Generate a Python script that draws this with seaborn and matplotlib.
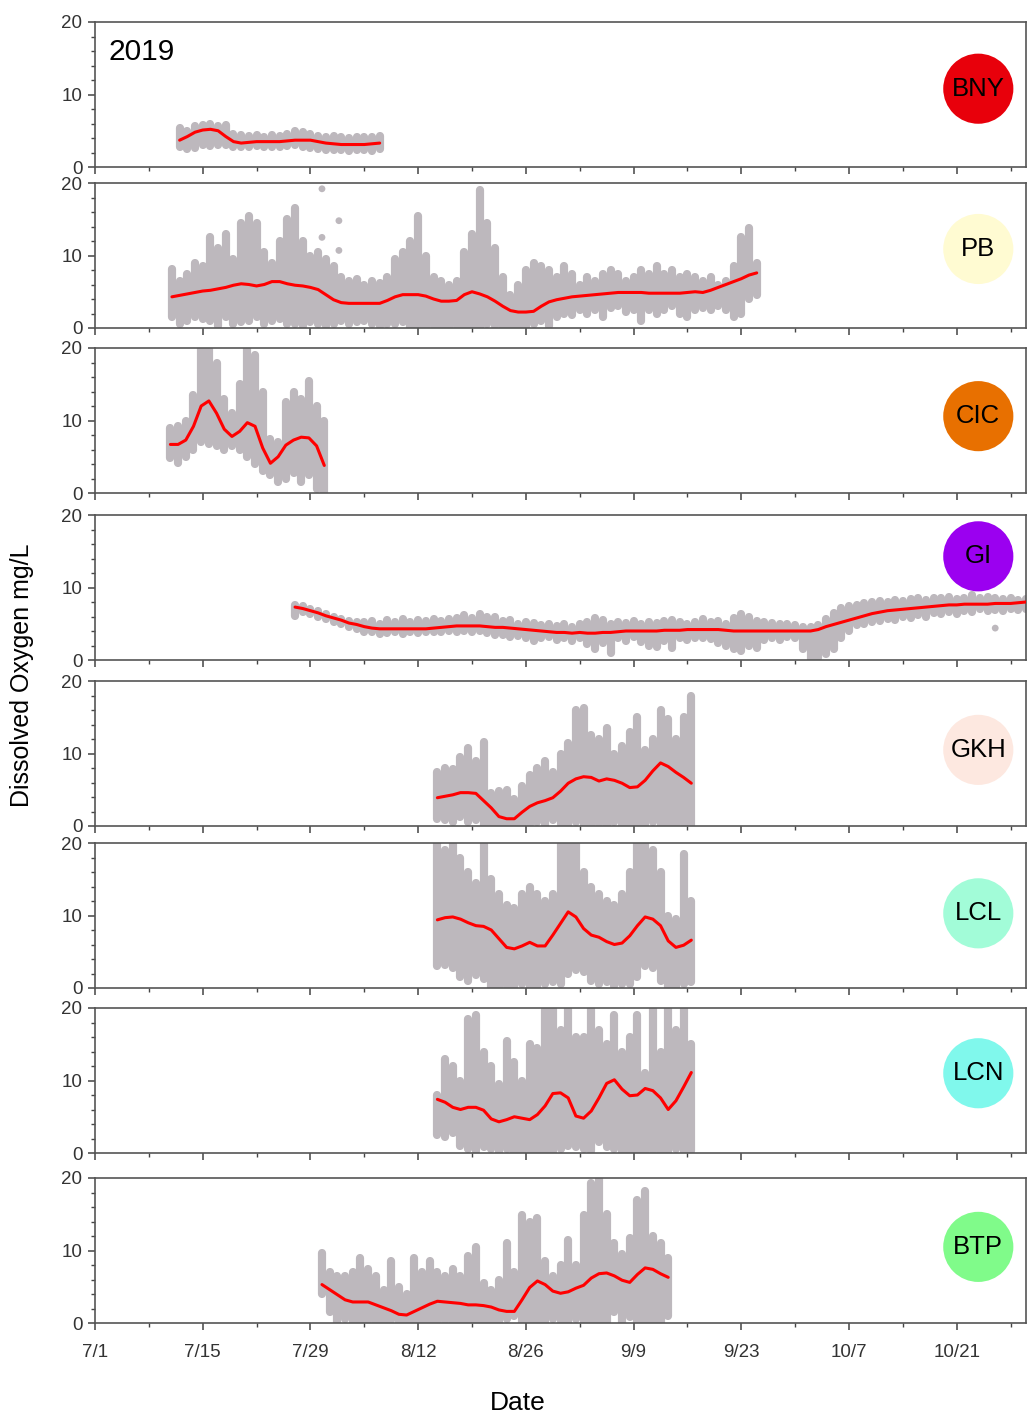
import numpy as np
import pandas as pd
import matplotlib.pyplot as plt
import matplotlib.transforms as mtransforms
import seaborn as sns

# stations, top to bottom
sites = ["BNY", "PB", "CIC", "GI", "GKH", "LCL", "LCN", "BTP"]
site_colors = ["#e8000b", "#fffbd2", "#e87000", "#9b00f0",
               "#fde8e0", "#a2fcd8", "#80f8ec", "#80fb8a"]

# x axis: days after 7/1
tick_days = [0, 14, 28, 42, 56, 70, 84, 98, 112]
tick_labels = ["7/1", "7/15", "7/29", "8/12", "8/26", "9/9", "9/23", "10/7", "10/21"]

# first day of each record, then one value per day
start_day = {"BNY": 11, "PB": 10, "CIC": 9.8, "GI": 26,
             "GKH": 44.5, "LCL": 44.5, "LCN": 44.5, "BTP": 29.5}

# smoothed DO (red line), daily high and daily low of the raw readings (grey)
bny_trend = [3.7, 4.2, 4.8, 5.1, 5.2, 5.0, 4.2, 3.5, 3.3, 3.4, 3.5, 3.5, 3.5, 3.5,
             3.6, 3.7, 3.7, 3.7, 3.5, 3.3, 3.2, 3.1, 3.1, 3.1, 3.1, 3.2, 3.3]
bny_hi = [5.4, 5.0, 5.6, 5.8, 5.9, 5.7, 5.8, 4.6, 4.4, 4.3, 4.4, 4.2, 4.4, 4.3,
          4.6, 5.0, 4.8, 4.5, 4.3, 4.2, 4.3, 4.1, 4.0, 4.2, 4.1, 4.2, 4.3]
bny_lo = [2.8, 2.5, 2.6, 3.0, 2.9, 3.1, 3.0, 2.7, 2.8, 2.7, 2.9, 2.8, 2.7, 2.8,
          2.9, 3.0, 2.8, 2.6, 2.5, 2.4, 2.3, 2.3, 2.2, 2.4, 2.3, 2.2, 2.5]

pb_trend = [4.3, 4.5, 4.7, 4.9, 5.1, 5.2, 5.4, 5.6, 5.9, 6.1,
            6.0, 5.8, 6.0, 6.4, 6.4, 6.1, 5.9, 5.8, 5.6, 5.3,
            4.6, 3.9, 3.5, 3.4, 3.4, 3.4, 3.4, 3.4, 3.8, 4.3,
            4.6, 4.6, 4.6, 4.4, 4.0, 3.7, 3.7, 3.8, 4.6, 5.0,
            4.7, 4.3, 3.7, 3.0, 2.4, 2.2, 2.2, 2.3, 3.0, 3.6,
            3.9, 4.1, 4.3, 4.4, 4.5, 4.6, 4.7, 4.8, 4.9, 4.9,
            4.9, 4.9, 4.8, 4.8, 4.8, 4.8, 4.8, 4.9, 5.0, 4.9,
            5.2, 5.6, 6.0, 6.4, 6.8, 7.3, 7.6]
pb_hi = [8.2, 6.5, 7.5, 9.0, 8.5, 12.5, 11.0, 13.0, 9.5, 14.5,
         15.5, 14.5, 10.5, 9.0, 12.0, 15.0, 16.5, 12.0, 10.0, 10.5,
         9.5, 8.5, 7.0, 6.5, 6.8, 6.0, 6.5, 6.2, 7.0, 9.5,
         10.5, 12.0, 15.5, 10.0, 7.0, 6.5, 6.0, 6.5, 10.5, 13.0,
         19.0, 14.5, 11.0, 7.0, 4.5, 6.0, 8.0, 9.0, 8.5, 8.0,
         7.0, 8.5, 7.5, 6.0, 7.0, 6.5, 7.5, 8.0, 7.5, 6.5,
         7.0, 8.0, 7.5, 8.5, 7.5, 8.0, 7.0, 7.5, 7.0, 6.5,
         7.0, 6.0, 6.5, 8.5, 12.5, 13.8, 9.0]
pb_lo = [1.5, 0.5, 1.0, 1.5, 1.2, 1.0, 0.3, 1.5, 0.5, 0.8,
         1.0, 1.5, 0.5, 1.0, 1.2, 0.5, 0.5, 0.3, 0.8, 0.5,
         0.3, 0.5, 1.0, 0.5, 0.8, 1.0, 0.5, 0.3, 0.5, 0.5,
         0.8, 0.2, 0.0, 0.0, 0.3, 0.0, 0.0, 0.3, 0.0, 0.0,
         0.2, 0.5, 0.3, 0.0, 0.0, 0.0, 0.0, 0.5, 1.0, 0.3,
         1.5, 2.0, 1.8, 2.5, 2.0, 2.5, 1.5, 2.8, 3.0, 2.2,
         2.5, 1.0, 2.5, 2.0, 2.5, 3.0, 2.0, 1.5, 2.5, 2.8,
         2.5, 3.0, 2.5, 1.5, 2.0, 4.0, 4.5]
pb_outlier_day = [29.5, 31.7, 29.5, 31.7]
pb_outlier_do = [19.2, 14.8, 12.5, 10.7]

cic_trend = [6.7, 6.7, 7.3, 9.2, 12.0, 12.7, 11.0, 8.8, 7.8, 8.5, 9.7,
             9.2, 6.2, 4.1, 5.0, 6.6, 7.3, 7.7, 7.6, 6.5, 3.8]
cic_hi = [9.0, 9.2, 10.0, 13.5, 20.0, 20.0, 18.0, 13.0, 11.0, 15.0, 20.0,
          19.0, 14.0, 7.5, 7.0, 12.5, 14.0, 13.0, 15.5, 12.0, 10.0]
cic_lo = [4.8, 4.2, 5.0, 6.0, 7.0, 6.8, 6.5, 6.0, 6.5, 6.0, 5.0,
          4.0, 3.0, 2.5, 1.5, 2.0, 2.8, 1.5, 2.5, 0.5, 0.0]

gi_trend = [7.3, 7.1, 6.8, 6.5, 6.1, 5.8, 5.5, 5.1, 4.9, 4.6,
            4.4, 4.3, 4.3, 4.3, 4.3, 4.3, 4.3, 4.3, 4.4, 4.5,
            4.6, 4.7, 4.7, 4.7, 4.7, 4.6, 4.5, 4.5, 4.4, 4.3,
            4.2, 4.1, 4.0, 3.9, 3.8, 3.8, 3.7, 3.8, 3.7, 3.7,
            3.8, 3.8, 3.9, 4.0, 4.0, 4.0, 4.0, 4.0, 4.1, 4.1,
            4.1, 4.2, 4.2, 4.2, 4.2, 4.2, 4.1, 4.0, 4.0, 4.0,
            4.0, 4.0, 4.0, 4.0, 4.0, 4.0, 4.0, 4.0, 4.2, 4.6,
            4.9, 5.2, 5.5, 5.8, 6.1, 6.4, 6.6, 6.8, 6.9, 7.0,
            7.1, 7.2, 7.3, 7.4, 7.5, 7.6, 7.6, 7.7, 7.7, 7.7,
            7.7, 7.8, 7.8, 7.8, 7.9, 8.0]
gi_hi = [7.6, 7.4, 7.0, 6.7, 6.4, 6.0, 5.7, 5.4, 5.2, 5.3,
         5.4, 5.0, 5.5, 5.2, 5.6, 5.3, 5.5, 5.4, 5.6, 5.4,
         5.7, 5.8, 6.2, 5.8, 6.3, 5.9, 6.0, 5.4, 5.5, 5.0,
         5.3, 5.1, 4.8, 4.9, 4.7, 5.0, 4.6, 4.9, 5.2, 5.8,
         5.5, 5.0, 5.3, 5.1, 5.4, 5.0, 5.2, 5.1, 5.4, 5.5,
         5.2, 5.0, 5.3, 5.6, 5.2, 5.4, 5.0, 5.8, 6.3, 5.9,
         5.4, 5.2, 5.1, 5.0, 4.9, 4.8, 4.6, 4.5, 4.8, 5.6,
         6.5, 7.2, 7.5, 7.6, 7.9, 8.0, 8.2, 8.0, 8.3, 8.1,
         8.4, 8.5, 8.3, 8.6, 8.5, 8.7, 8.4, 8.6, 8.9, 8.5,
         8.7, 8.6, 8.4, 8.5, 8.3, 8.4]
gi_lo = [6.1, 6.6, 6.3, 6.0, 5.6, 5.3, 5.0, 4.6, 4.3, 3.9,
         3.8, 3.6, 3.7, 3.8, 3.6, 3.8, 3.7, 3.8, 3.9, 3.8,
         4.0, 3.9, 4.0, 3.9, 4.0, 3.7, 3.5, 3.4, 3.2, 3.3,
         3.0, 2.6, 3.0, 3.2, 2.8, 3.1, 2.6, 3.0, 2.2, 1.5,
         2.4, 1.0, 3.0, 2.6, 3.2, 2.5, 2.0, 1.8, 2.6, 1.7,
         3.0, 2.8, 3.1, 3.0, 2.9, 2.4, 2.0, 1.5, 1.3, 2.0,
         1.6, 2.7, 3.0, 2.8, 3.2, 3.0, 1.5, 0.2, 0.3, 0.8,
         1.5, 3.0, 4.0, 4.8, 5.0, 5.3, 5.4, 5.7, 5.5, 6.0,
         5.8, 6.2, 6.0, 6.5, 6.3, 6.6, 6.4, 6.8, 6.6, 7.0,
         6.7, 6.9, 6.8, 7.0, 6.9, 7.1]
gi_outlier_day = [117]
gi_outlier_do = [4.4]

gkh_trend = [3.9, 4.1, 4.3, 4.6, 4.6, 4.5, 3.5, 2.5, 1.3, 1.0, 1.0, 1.9,
             2.7, 3.2, 3.5, 3.9, 4.8, 5.9, 6.5, 6.8, 6.7, 6.2, 6.5, 6.3,
             5.9, 5.3, 5.4, 6.3, 7.6, 8.7, 8.2, 7.4, 6.7, 5.9]
gkh_hi = [7.5, 8.0, 7.8, 9.5, 10.8, 9.0, 11.6, 4.5, 4.8, 5.0, 3.7, 5.5,
          7.0, 8.0, 9.0, 7.5, 10.0, 11.5, 16.0, 16.3, 12.5, 12.0, 13.5, 10.0,
          11.0, 13.0, 15.0, 10.5, 12.0, 16.0, 14.7, 12.0, 15.0, 18.0]
gkh_lo = [1.0, 0.8, 0.5, 1.2, 0.6, 0.8, 0.0, 0.0, 0.0, 0.0, 0.0, 0.0,
          0.3, 0.5, 0.2, 0.8, 0.3, 0.0, 0.5, 0.2, 0.0, 0.3, 0.0, 0.5,
          0.0, 0.0, 0.2, 0.0, 0.5, 0.0, 0.0, 0.0, 0.3, 0.0]

lcl_trend = [9.4, 9.7, 9.8, 9.5, 9.0, 8.6, 8.5, 8.0, 6.8, 5.6, 5.4, 5.8,
             6.3, 5.8, 5.8, 7.3, 8.9, 10.5, 9.8, 8.2, 7.3, 7.0, 6.4, 6.0,
             6.2, 7.2, 8.6, 9.8, 9.5, 8.6, 6.5, 5.6, 5.9, 6.6]
lcl_hi = [20.0, 19.0, 20.0, 18.0, 16.0, 14.5, 20.0, 15.0, 13.0, 11.5, 11.0, 13.0,
          14.0, 13.0, 12.0, 13.0, 20.0, 20.0, 20.0, 16.0, 14.0, 13.0, 12.0, 11.5,
          13.0, 16.0, 20.0, 20.0, 19.0, 16.0, 10.0, 9.5, 18.5, 12.0]
lcl_lo = [3.0, 3.2, 2.8, 1.5, 1.0, 1.8, 1.2, 0.0, 0.0, 0.3, 0.0, 0.5,
          0.0, 0.2, 0.5, 0.8, 0.6, 2.0, 2.5, 2.2, 1.0, 0.5, 0.8, 0.3,
          0.6, 0.5, 1.5, 3.0, 2.8, 1.0, 0.0, 0.0, 0.5, 0.8]

lcn_trend = [7.4, 7.0, 6.3, 6.0, 6.3, 6.3, 5.9, 4.7, 4.3, 4.6, 5.0, 4.8,
             4.6, 5.3, 6.5, 8.2, 8.3, 7.6, 5.1, 4.8, 5.8, 7.6, 9.6, 10.1,
             8.8, 7.9, 8.0, 8.9, 8.6, 7.6, 6.0, 7.2, 9.1, 11.1]
lcn_hi = [8.0, 13.0, 12.0, 10.0, 18.5, 19.0, 14.0, 12.0, 9.5, 15.5, 12.5, 10.0,
          15.0, 14.5, 20.0, 20.0, 17.0, 20.0, 16.0, 16.0, 20.0, 17.0, 15.0, 19.0,
          14.0, 16.0, 19.0, 11.0, 20.0, 14.0, 20.0, 17.0, 20.0, 15.0]
lcn_lo = [2.5, 2.2, 2.8, 1.0, 0.5, 0.3, 0.8, 0.5, 0.2, 0.6, 0.0, 0.0,
          0.3, 0.0, 0.0, 0.2, 0.5, 1.0, 0.8, 0.5, 0.3, 1.5, 0.8, 0.5,
          0.0, 0.2, 0.0, 0.0, 0.3, 0.0, 0.0, 0.5, 0.0, 0.3]

btp_trend = [5.3, 4.6, 3.9, 3.2, 2.9, 2.9, 2.9, 2.5, 2.1, 1.7,
             1.2, 1.1, 1.6, 2.1, 2.6, 3.0, 2.9, 2.8, 2.7, 2.5,
             2.5, 2.4, 2.2, 1.8, 1.6, 1.6, 3.2, 4.9, 5.8, 5.3,
             4.4, 4.1, 4.3, 4.8, 5.2, 6.2, 6.8, 6.9, 6.5, 5.9,
             5.6, 6.7, 7.6, 7.4, 6.8, 6.3]
btp_hi = [9.6, 7.0, 6.5, 6.5, 7.0, 9.0, 7.5, 6.5, 4.5, 8.5,
          5.0, 4.0, 9.0, 7.0, 8.5, 7.0, 6.5, 7.5, 6.5, 9.2,
          10.5, 5.5, 4.5, 6.0, 11.0, 7.0, 14.9, 14.0, 14.5, 8.5,
          6.5, 8.0, 11.5, 8.0, 14.9, 19.3, 20.0, 15.0, 11.0, 9.5,
          11.7, 17.0, 18.2, 12.0, 11.0, 9.0]
btp_lo = [4.0, 1.5, 0.0, 0.5, 0.2, 0.0, 0.3, 0.0, 0.0, 0.4,
          0.0, 0.0, 0.0, 0.2, 0.0, 0.0, 0.3, 0.0, 0.0, 0.2,
          0.0, 0.0, 0.0, 0.0, 0.5, 1.0, 0.0, 0.2, 0.0, 0.0,
          0.5, 0.3, 0.0, 0.5, 0.0, 0.0, 0.0, 0.2, 1.5, 0.0,
          0.8, 0.0, 0.0, 0.0, 0.2, 1.0]

records = {
    "BNY": (bny_trend, bny_hi, bny_lo),
    "PB": (pb_trend, pb_hi, pb_lo),
    "CIC": (cic_trend, cic_hi, cic_lo),
    "GI": (gi_trend, gi_hi, gi_lo),
    "GKH": (gkh_trend, gkh_hi, gkh_lo),
    "LCL": (lcl_trend, lcl_hi, lcl_lo),
    "LCN": (lcn_trend, lcn_hi, lcn_lo),
    "BTP": (btp_trend, btp_hi, btp_lo),
}
outliers = {"PB": (pb_outlier_day, pb_outlier_do),
            "GI": (gi_outlier_day, gi_outlier_do)}

sns.set_style("ticks")
plt.rcParams['font.family'] = ['Liberation Sans', 'DejaVu Sans']
plt.rcParams['text.color'] = 'black'

grey = "#bdb8bd"
W, H = 1029, 1426
panel_bottom = [167, 328, 493, 660, 826, 988, 1153, 1323]
badge_y = [10.8, 10.9, 10.6, 14.3, 10.5, 10.3, 11.0, 10.5]

fig = plt.figure(figsize=(W / 100, H / 100), dpi=100)

for i, site in enumerate(sites):
    ax = fig.add_axes([95 / W, 1 - panel_bottom[i] / H, 931 / W, 145 / H])
    trend, hi, lo = records[site]
    assert len(trend) == len(hi) == len(lo), site
    days = start_day[site] + np.arange(len(trend))

    ax.vlines(days, lo, hi, colors=grey, lw=5.9, capstyle="round", zorder=1)
    if site in outliers:
        od, ov = outliers[site]
        sns.scatterplot(x=od, y=ov, color=grey, s=24, edgecolor="none", ax=ax, zorder=2)
    sns.lineplot(x=days, y=trend, color="#ff0000", lw=2.2, ax=ax, zorder=3)

    ax.set_xlim(0, 121)
    ax.set_ylim(0, 20)
    ax.set_yticks([0, 10, 20])
    ax.set_yticks(np.arange(0, 21, 2), minor=True)
    ax.set_xticks(tick_days)
    ax.set_xticks(np.arange(7, 121, 14), minor=True)
    if i == len(sites) - 1:
        ax.set_xticklabels(tick_labels)
        # labels in the original sit a little left of their ticks
        shift = mtransforms.ScaledTranslation(-6 / 100, 0, fig.dpi_scale_trans)
        for lab in ax.get_xticklabels():
            lab.set_transform(lab.get_transform() + shift)
    else:
        ax.set_xticklabels([])
    ax.tick_params(which="major", length=5, width=1.1, color="#444444",
                   labelsize=13.5, labelcolor="#333333", pad=4)
    ax.tick_params(axis="x", which="major", pad=10)
    ax.tick_params(which="minor", length=3, width=1.0, color="#444444")
    ax.set_xlabel("")
    ax.set_ylabel("")
    for sp in ax.spines.values():
        sp.set_color("#555555")
        sp.set_linewidth(1.2)

    # station badge
    ax.scatter([114.8], [badge_y[i]], s=2550, color=site_colors[i], edgecolor="none", zorder=4)
    ax.text(114.8, badge_y[i], site, ha="center", va="center", fontsize=18.5,
            color="black", zorder=5)

    if i == 0:
        ax.text(0.014, 0.79, "2019", transform=ax.transAxes, fontsize=21.5,
                va="center", color="black")

fig.text(22 / W, 1 - 675 / H, "Dissolved Oxygen mg/L", rotation=90,
         ha="center", va="center", fontsize=18, color="black")
fig.text(518 / W, 1 - 1403 / H, "Date", ha="center", va="center", fontsize=19,
         color="black")

fig.savefig("out.png", dpi=100)
